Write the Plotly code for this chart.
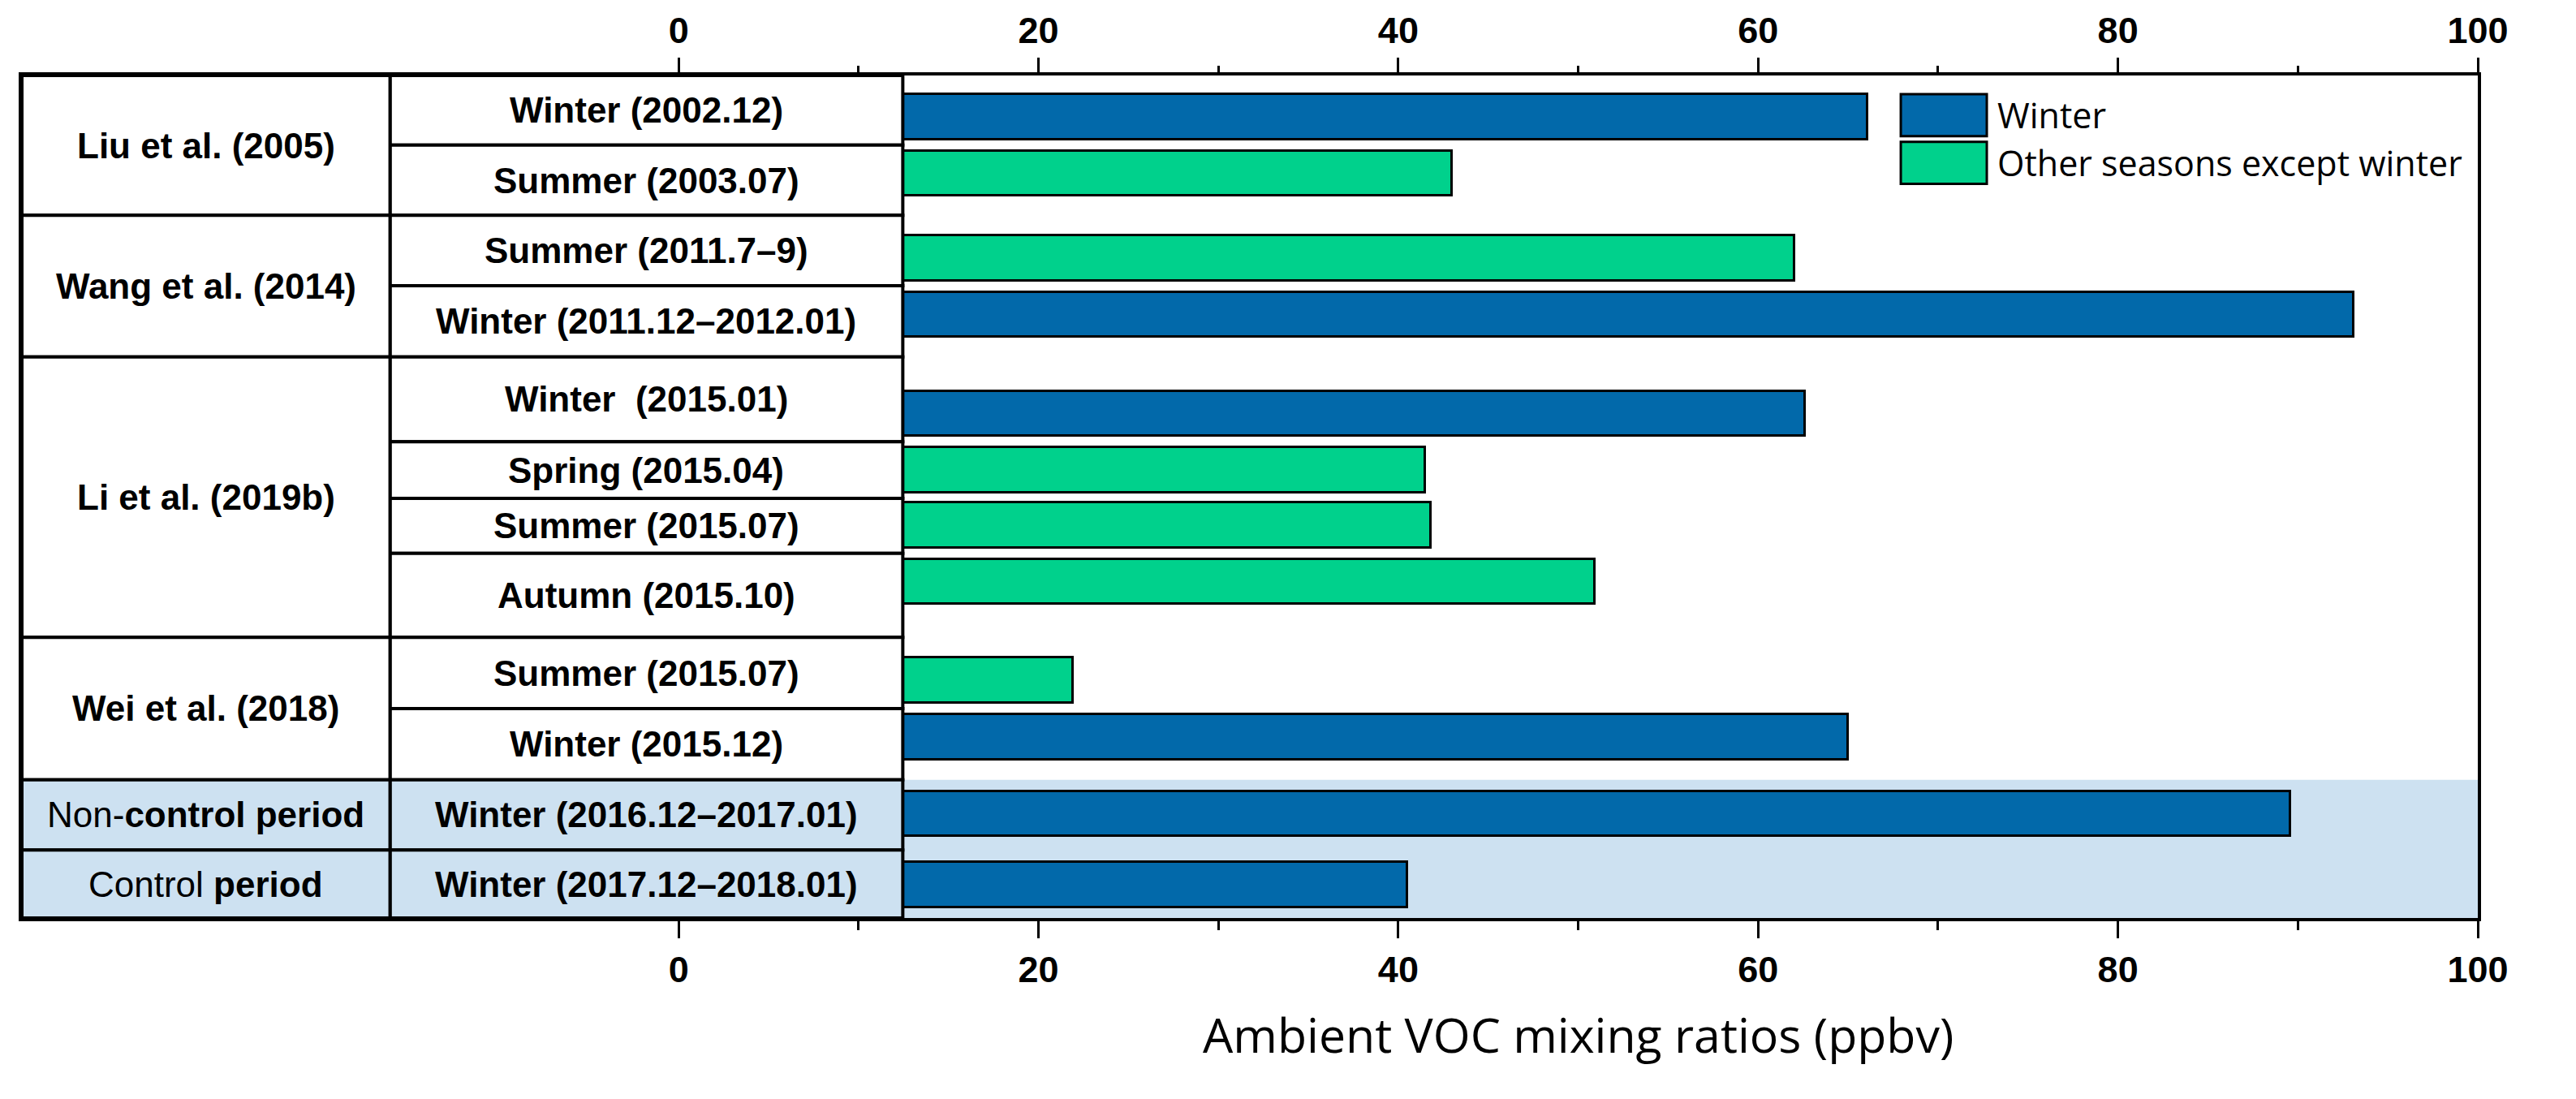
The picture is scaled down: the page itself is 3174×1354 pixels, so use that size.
import plotly.graph_objects as go

# ---------------- data ----------------
studies = ["Liu et al. (2005)", "Wang et al. (2014)", "Li et al. (2019b)",
           "Wei et al. (2018)", "Non-<b>control period</b>", "Control <b>period</b>"]
study_rows = [2, 2, 4, 2, 1, 1]          # number of periods per study

periods = ["Winter (2002.12)", "Summer (2003.07)",
           "Summer (2011.7–9)", "Winter (2011.12–2012.01)",
           "Winter\u00a0 (2015.01)", "Spring (2015.04)", "Summer (2015.07)", "Autumn (2015.10)",
           "Summer (2015.07)", "Winter (2015.12)",
           "Winter (2016.12–2017.01)", "Winter (2017.12–2018.01)"]
values = [66.1, 43.0, 62.0, 93.1, 62.6, 41.5, 41.8, 50.9, 21.9, 65.0, 89.6, 40.5]
season_type = ["Winter", "Other", "Other", "Winter", "Winter", "Other", "Other", "Other",
               "Other", "Winter", "Winter", "Winter"]
legend_names = {"Winter": "Winter", "Other": "Other seasons except winter"}

# ---------------- layout helpers (positions in layout units) ----------------
row_edges = [89, 175, 262, 349, 437, 542, 612, 680, 784, 872, 960, 1047, 1131]
bar_centers = [140.5, 210, 314.7, 384.7, 507, 576.5, 645.3, 715, 837, 907, 1002, 1089.5]
BAR_W = 56
X_MIN, X_COL, X_TAB = -36.5, -16.04, 12.46
BAND_START_ROW = 10

BLUE = "#0269AA"
GREEN = "#00D18C"
BAND = "#CDE1F1"
colors = {"Winter": BLUE, "Other": GREEN}
TABLE_FONT = dict(family="Liberation Sans, Arial", size=44, color="black")

fig = go.Figure()
for key in ["Winter", "Other"]:
    idx = [i for i, s in enumerate(season_type) if s == key]
    fig.add_trace(go.Bar(
        x=[values[i] for i in idx], y=[bar_centers[i] for i in idx],
        orientation="h", width=BAR_W, base=0,
        marker=dict(color=colors[key], line=dict(color="black", width=3)),
        name=legend_names[key], showlegend=False))
# dummy trace for top axis
fig.add_trace(go.Scatter(x=[None], y=[None], xaxis="x2", yaxis="y", showlegend=False,
                         hoverinfo="skip"))

shapes = []
# light blue band in plot region
shapes.append(dict(type="rect", xref="x", yref="y", x0=X_TAB, x1=100,
                   y0=row_edges[BAND_START_ROW], y1=row_edges[-1],
                   fillcolor=BAND, line=dict(width=0), layer="below"))
# column 2 cells
for i in range(len(periods)):
    fill = BAND if i >= BAND_START_ROW else "white"
    shapes.append(dict(type="rect", xref="x", yref="y", x0=X_COL, x1=X_TAB,
                       y0=row_edges[i], y1=row_edges[i + 1], fillcolor=fill,
                       line=dict(color="black", width=4), layer="above"))
# column 1 cells
annotations = []
r = 0
for s, n in zip(studies, study_rows):
    y0, y1 = row_edges[r], row_edges[r + n]
    fill = BAND if r >= BAND_START_ROW else "white"
    shapes.append(dict(type="rect", xref="x", yref="y", x0=X_MIN, x1=X_COL,
                       y0=y0, y1=y1, fillcolor=fill,
                       line=dict(color="black", width=4), layer="above"))
    txt = s if "<b>" in s else "<b>" + s + "</b>"
    annotations.append(dict(x=(X_MIN + X_COL) / 2, y=(y0 + y1) / 2, xref="x", yref="y",
                            text=txt, showarrow=False, xanchor="center", yanchor="middle",
                            font=TABLE_FONT))
    r += n
for i, p in enumerate(periods):
    annotations.append(dict(x=(X_COL + X_TAB) / 2, y=(row_edges[i] + row_edges[i + 1]) / 2,
                            xref="x", yref="y", text="<b>" + p + "</b>", showarrow=False,
                            xanchor="center", yanchor="middle", font=TABLE_FONT))

# custom legend
leg_y = [(112, 164), (171, 223)]
for (y0, y1), key in zip(leg_y, ["Winter", "Other"]):
    shapes.append(dict(type="rect", xref="x", yref="y", x0=67.93, x1=72.71, y0=y0, y1=y1,
                       fillcolor=colors[key], line=dict(color="black", width=3), layer="above"))
    annotations.append(dict(x=73.2, y=(y0 + y1) / 2, xref="x", yref="y", text=legend_names[key],
                            showarrow=False, xanchor="left", yanchor="middle",
                            font=dict(family="Open Sans", size=43, color="black")))

# x axis title
annotations.append(dict(x=50, y=-0.138, xref="x", yref="paper",
                        text="Ambient VOC mixing ratios (ppbv)", showarrow=False,
                        xanchor="center", yanchor="middle",
                        font=dict(family="Open Sans", size=59, color="black")))

tickvals = [0, 20, 40, 60, 80, 100]
minor_vals = [10, 30, 50, 70, 90]
tickfont = dict(family="Liberation Sans, Arial", size=45, color="black", weight="bold")

fig.update_layout(
    width=3174, height=1354,
    margin=dict(l=27, r=121, t=89, b=223),
    paper_bgcolor="white", plot_bgcolor="white",
    bargap=0,
    shapes=shapes, annotations=annotations,
    xaxis=dict(range=[X_MIN, 100], tickvals=tickvals, ticks="outside", ticklen=21,
               tickwidth=3, tickcolor="black", tickfont=tickfont,
               minor=dict(tickvals=minor_vals, ticks="outside", ticklen=11, tickwidth=3,
                          tickcolor="black"),
               showline=True, linewidth=4, linecolor="black", mirror=True,
               showgrid=False, zeroline=False),
    xaxis2=dict(range=[X_MIN, 100], overlaying="x", side="top", anchor="y",
                tickvals=tickvals, ticks="outside", ticklen=21, tickwidth=3,
                tickcolor="black", tickfont=tickfont,
                minor=dict(tickvals=minor_vals, ticks="outside", ticklen=11, tickwidth=3,
                           tickcolor="black"),
                showline=False, showgrid=False, zeroline=False),
    yaxis=dict(range=[row_edges[-1], row_edges[0]], showticklabels=False, ticks="",
               showline=True, linewidth=4, linecolor="black", mirror=True,
               showgrid=False, zeroline=False),
)

fig.write_html("out.html", config={"displayModeBar": False},
               post_script="document.body.style.margin='0';")
